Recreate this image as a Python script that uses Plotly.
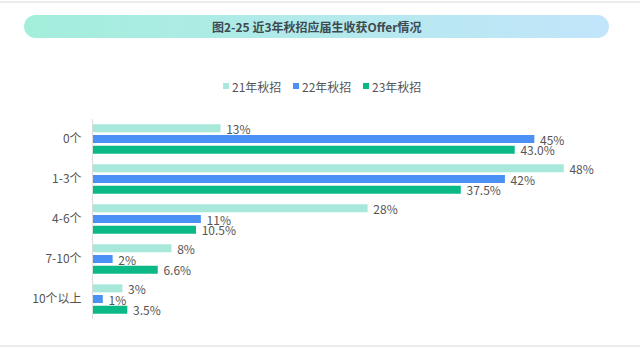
import numpy as np
import plotly.graph_objects as go

categories = ["0个", "1-3个", "4-6个", "7-10个", "10个以上"]
series_names = ["21年秋招", "22年秋招", "23年秋招"]
values_21 = [13, 48, 28, 8, 3]
values_22 = [45, 42, 11, 2, 1]
values_23 = [43.0, 37.5, 10.5, 6.6, 3.5]
colors = ["#a8e8db", "#4b90f5", "#0bb987"]
label_formats = ["\u00a0%{x:.0f}%", "\u00a0%{x:.0f}%", "\u00a0%{x:.1f}%"]
title_text = "图2-25 近3年秋招应届生收获Offer情况"

W, H = 640, 349
FONT = "Noto Sans CJK SC"

fig = go.Figure()

for name, vals, col, fmt in zip(series_names, [values_21, values_22, values_23], colors, label_formats):
    fig.add_trace(go.Bar(
        y=categories, x=vals, name=name, orientation="h",
        marker=dict(color=col, line=dict(width=0)),
        texttemplate=fmt, textposition="outside", cliponaxis=False,
        constraintext="none",
        textfont=dict(size=12, color="#555555", family=FONT),
        hoverinfo="skip", showlegend=False,
    ))

# title banner (pill with horizontal gradient) on a full-page pixel axis
x0, x1, y0, y1 = 24, 609, 15, 38
r = (y1 - y0) / 2
cy = (y0 + y1) / 2
t1 = np.linspace(-np.pi / 2, np.pi / 2, 30)
t2 = np.linspace(np.pi / 2, 3 * np.pi / 2, 30)
px = np.concatenate([x1 - r + r * np.cos(t1), x0 + r + r * np.cos(t2)])
py = np.concatenate([cy + r * np.sin(t1), cy + r * np.sin(t2)])
fig.add_trace(go.Scatter(
    x=np.append(px, px[0]), y=np.append(py, py[0]), mode="lines",
    fill="toself", line=dict(width=0),
    fillgradient=dict(type="horizontal", colorscale=[[0, "#a3eedb"], [1, "#c2e5fb"]]),
    xaxis="x2", yaxis="y2", showlegend=False, hoverinfo="skip",
))

# custom compact legend (small squares + labels), in page pixels
legend_text_x = [230, 300, 370]
legend_y = 86
shapes = [
    dict(type="line", xref="x2", yref="y2", x0=0, x1=W, y0=2, y1=2,
         line=dict(color="#d9d9d9", width=1)),
    dict(type="line", xref="x2", yref="y2", x0=0, x1=W, y0=346, y1=346,
         line=dict(color="#d9d9d9", width=1)),
]
annotations = [
    dict(text="<b>" + title_text + "</b>", xref="x2", yref="y2", x=316, y=26.5,
         showarrow=False, font=dict(size=12, color="#3f4a50", family=FONT),
         xanchor="center", yanchor="middle"),
]
for name, col, tx in zip(series_names, colors, legend_text_x):
    shapes.append(dict(type="rect", xref="x2", yref="y2", x0=tx - 7, x1=tx - 1,
                       y0=legend_y - 3, y1=legend_y + 3, fillcolor=col, line=dict(width=0)))
    annotations.append(dict(text=name, xref="x2", yref="y2", x=tx, y=legend_y,
                            showarrow=False, xanchor="left", yanchor="middle",
                            font=dict(size=12, color="#555555", family=FONT)))

fig.update_layout(
    width=W, height=H,
    margin=dict(l=0, r=0, t=0, b=0),
    paper_bgcolor="white", plot_bgcolor="rgba(0,0,0,0)",
    font=dict(family=FONT, color="#555555", size=12),
    barmode="group", bargap=0.2, bargroupgap=0.25,
    xaxis=dict(domain=[93 / W, 603 / W], range=[0, 52], visible=False, fixedrange=True),
    yaxis=dict(domain=[30 / H, 230 / H], autorange="reversed", showline=True,
               linecolor="#dddddd", linewidth=1, showgrid=False, ticks="",
               ticklabelstandoff=8, tickfont=dict(size=12, color="#555555")),
    xaxis2=dict(domain=[0, 1], range=[0, W], visible=False, anchor="y2", fixedrange=True),
    yaxis2=dict(domain=[0, 1], range=[H, 0], visible=False, anchor="x2", fixedrange=True),
    shapes=shapes,
    annotations=annotations,
    showlegend=False,
)

fig.write_html("out.html")
